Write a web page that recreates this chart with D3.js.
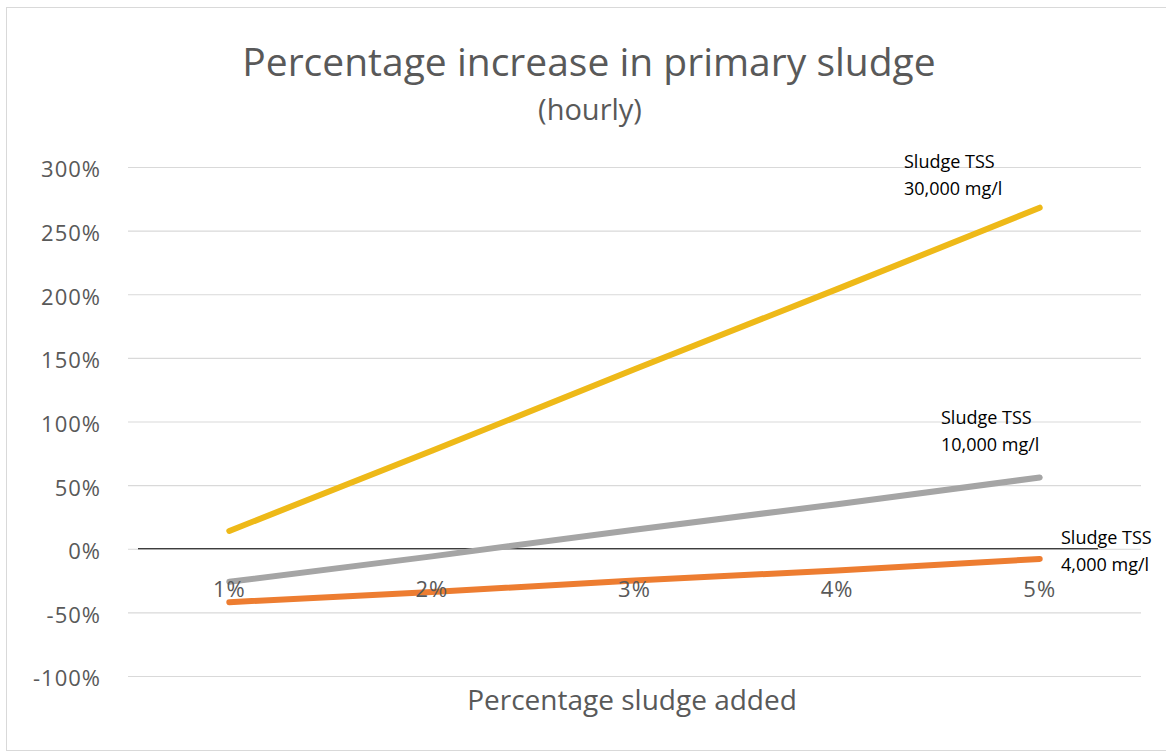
<!DOCTYPE html>
<html>
<head>
<meta charset="utf-8">
<script src="https://cdn.jsdelivr.net/npm/d3@7"></script>
<style>
  body { margin: 0; background: #fff; }
  text { font-family: "Open Sans", "Noto Sans", sans-serif; }
</style>
</head>
<body>
<svg id="chart" width="1166" height="756"></svg>
<script>
// data
const categories = ["1%", "2%", "3%", "4%", "5%"];
const tss30000 = [14, 77, 141, 204, 268];
const tss10000 = [-26, -6, 15, 35, 56];
const tss4000 = [-42, -34, -25, -17, -8];
const yTicks = [-100, -50, 0, 50, 100, 150, 200, 250, 300];

const series = [
  { name: "30,000 mg/l", values: tss30000, color: "#eeb918" },
  { name: "10,000 mg/l", values: tss10000, color: "#a5a5a5" },
  { name: "4,000 mg/l", values: tss4000, color: "#ed7d31" }
];

const svg = d3.select("#chart");

// chart area box
svg.append("rect")
  .attr("x", 6.5).attr("y", 7.5)
  .attr("width", 1170).attr("height", 743)
  .attr("fill", "none")
  .attr("stroke", "#d9d9d9");

const x = d3.scalePoint()
  .domain(categories)
  .range([128, 1141])
  .padding(0.5);

const y = d3.scaleLinear()
  .domain([-100, 300])
  .range([676, 167]);

// gridlines + y labels
const yAxis = svg.append("g")
  .attr("transform", "translate(128,0)")
  .call(d3.axisLeft(y).tickValues(yTicks)
    .tickSize(-1013).tickPadding(27)
    .tickFormat(d => d + "%"));
yAxis.select(".domain").remove();
yAxis.selectAll(".tick line").attr("stroke", "#d9d9d9").attr("stroke-width", 1.2);
yAxis.selectAll(".tick text")
  .attr("fill", "#595959")
  .attr("font-size", 22)
  .attr("letter-spacing", 1)
  .attr("dy", "0.45em");

// zero line drawn over the chart
svg.append("line")
  .attr("x1", 138).attr("x2", 1098)
  .attr("y1", y(0)).attr("y2", y(0))
  .attr("stroke", "#000").attr("stroke-width", 1.2);

// series lines
const line = d3.line()
  .x((d, i) => x(categories[i]))
  .y(d => y(d));

svg.selectAll("path.series")
  .data(series)
  .enter()
  .append("path")
  .attr("class", "series")
  .attr("d", d => line(d.values))
  .attr("fill", "none")
  .attr("stroke", d => d.color)
  .attr("stroke-width", 6)
  .attr("stroke-linecap", "round");

// category labels sit just under the zero line
svg.selectAll("text.cat")
  .data(categories)
  .enter()
  .append("text")
  .attr("class", "cat")
  .attr("x", d => x(d))
  .attr("y", y(0) + 48)
  .attr("text-anchor", "middle")
  .attr("fill", "#595959")
  .attr("font-size", 22)
  .attr("letter-spacing", 1)
  .text(d => d);

// titles
svg.append("text")
  .attr("x", 589).attr("y", 76)
  .attr("text-anchor", "middle")
  .attr("fill", "#595959")
  .attr("font-size", 39)
  .text("Percentage increase in primary sludge");

svg.append("text")
  .attr("x", 590).attr("y", 120)
  .attr("text-anchor", "middle")
  .attr("fill", "#595959")
  .attr("font-size", 29)
  .text("(hourly)");

svg.append("text")
  .attr("x", 632).attr("y", 710)
  .attr("text-anchor", "middle")
  .attr("fill", "#595959")
  .attr("font-size", 28)
  .text("Percentage sludge added");

// annotations at the end of each line
const notes = [
  { x: 904, y: 168, s: series[0] },
  { x: 941, y: 424, s: series[1] },
  { x: 1061, y: 544, s: series[2] }
];
notes.forEach(n => {
  const t = svg.append("text")
    .attr("x", n.x).attr("y", n.y)
    .attr("fill", "#000")
    .attr("font-family", "Carlito, Lato, sans-serif")
    .attr("font-size", 18);
  t.append("tspan").attr("x", n.x).text("Sludge TSS");
  t.append("tspan").attr("x", n.x).attr("dy", 27).text(n.s.name);
});
</script>
</body>
</html>
